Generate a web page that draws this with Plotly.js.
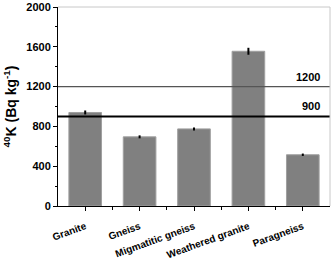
<!DOCTYPE html>
<html><head><meta charset="utf-8">
<script src="https://cdn.plot.ly/plotly-3.0.1.min.js"></script>
<style>html,body{margin:0;padding:0;background:#fff}#c{width:331px;height:263px}</style>
</head><body><div id="c"></div>
<script>
var categories = ["Granite", "Gneiss", "Migmatitic gneiss", "Weathered granite", "Paragneiss"];
var values = [940, 695, 775, 1555, 515];
var errors = [20, 15, 15, 35, 12];
var refLevels = [1200, 900];
var refLabels = ["1200", "900"];
var refColors = ["#555555", "#000000"];
var yTicks = [0, 400, 800, 1200, 1600, 2000];
var yTickText = ["0", "400", "800", "1200", "1600", "2000"];

var font = {family: "Liberation Sans, Arial, sans-serif", size: 11, color: "#000"};
var traces = [{
  type: "bar", x: categories, y: values,
  marker: {color: "#808080", line: {color: "#a0a0a0", width: 1}},
  width: 0.6,
  error_y: {type: "data", array: errors, visible: true, color: "#000", thickness: 2, width: 0},
  hoverinfo: "none"
}, {
  type: "scatter", x: [0], y: [0], xaxis: "x2", mode: "markers",
  marker: {opacity: 0}, hoverinfo: "none", showlegend: false
}];
var shapes = refLevels.map(function(v, i){
  return {type: "line", xref: "paper", x0: 0, x1: 1, yref: "y", y0: v, y1: v,
          line: {color: refColors[i], width: i === 0 ? 1.3 : 2}};
});
shapes.push({type: "line", xref: "paper", yref: "paper", x0: 0, x1: 1, y0: 1, y1: 1, line: {color: "#c8c8c8", width: 1}});
shapes.push({type: "line", xref: "paper", yref: "paper", x0: 1, x1: 1, y0: 0, y1: 1, line: {color: "#c8c8c8", width: 1}});
var annotations = refLevels.map(function(v, i){
  return {xref: "paper", x: 0.97, xanchor: "right", yref: "y", y: v, yanchor: "bottom", yshift: 2,
          text: "<b>" + refLabels[i] + "</b>", showarrow: false, font: {family: font.family, size: 11, color: "#000"}};
});
var layout = {
  width: 331, height: 263,
  margin: {l: 58, r: 1, t: 7, b: 57},
  paper_bgcolor: "#fff", plot_bgcolor: "#fff",
  showlegend: false,
  font: font,
  xaxis: {
    type: "category", range: [-0.5, 4.5], tickangle: -20,
    ticks: "outside", ticklen: 4, tickcolor: "#000", tickwidth: 1,
    ticklabelstandoff: 6,
    showline: true, linecolor: "#000", linewidth: 1, showgrid: false, zeroline: false,
    tickfont: {family: font.family, size: 10, color: "#000", weight: "bold"}
  },
  xaxis2: {
    overlaying: "x", anchor: "y", range: [-0.5, 4.5], tickvals: [0.5, 1.5, 2.5, 3.5],
    showticklabels: false, ticks: "outside", ticklen: 2.5, tickcolor: "#000",
    showgrid: false, zeroline: false, showline: false
  },
  yaxis: {
    range: [0, 2000], tickmode: "array", tickvals: yTicks, ticktext: yTickText,
    ticks: "outside", ticklen: 4, tickcolor: "#000", ticklabeloverflow: "allow",
    minor: {tickvals: [200, 600, 1000, 1400, 1800], ticks: "outside", ticklen: 2.5, tickcolor: "#000"},
    showline: true, linecolor: "#000", linewidth: 1, showgrid: false, zeroline: false,
    tickfont: {family: font.family, size: 11, color: "#000", weight: "bold"},
    title: {text: "<b><sup>40</sup>K (Bq kg<sup>-1</sup>)</b>", font: {family: font.family, size: 14, color: "#000"}, standoff: 6}
  },
  shapes: shapes,
  annotations: annotations
};
Plotly.newPlot("c", traces, layout, {staticPlot: true, displayModeBar: false});
</script></body></html>
